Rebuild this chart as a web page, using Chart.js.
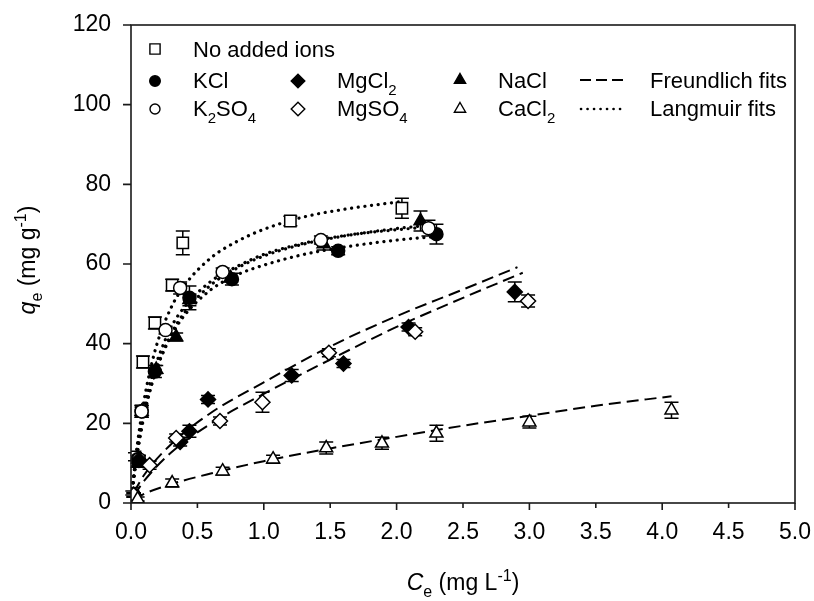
<!DOCTYPE html>
<html><head><meta charset="utf-8">
<script src="https://cdn.jsdelivr.net/npm/chart.js@4.4.0/dist/chart.umd.min.js"></script>
<style>html,body{margin:0;padding:0;background:#fff}canvas{display:block}</style>
</head><body><canvas id="c" width="814" height="601"></canvas>
<script>
// ---- data ----
const xTickValues = [0,0.5,1,1.5,2,2.5,3,3.5,4,4.5,5];
const yTickValues = [0,20,40,60,80,100,120];

const noIonsX = [0.01,0.03,0.08,0.09,0.18,0.31,0.39,1.20,2.04];
const noIonsY = [2.5,11.6,23,35.4,45.2,54.7,65.3,70.8,74];
const noIonsE = [0.5,1,1.5,1.5,1.5,1.5,3,1.2,2.5];

const kclX = [0.02,0.05,0.08,0.18,0.44,0.76,1.56,2.30];
const kclY = [2,11,23,33,51.5,56.2,63.3,67.5];
const kclE = [0.5,1,1.5,1.5,3,1.5,1,2.5];

const k2so4X = [0.02,0.06,0.08,0.26,0.37,0.69,1.43,2.24];
const k2so4Y = [2,11,23,43.4,54,58,66,69];
const k2so4E = [0.5,1,1.5,1,1.5,1,1,2];

const naclX = [0.02,0.05,0.08,0.19,0.34,0.44,0.75,1.45,2.18];
const naclY = [2,10,23,33.5,41.7,51,56.5,65,70.8];
const naclE = [0.5,1,1,1,1,1.5,1,1.5,2.5];

const mgcl2X = [0.02,0.06,0.37,0.44,0.58,1.21,1.60,2.09,2.89];
const mgcl2Y = [2,10.8,15.3,18,26,32,35,44.2,53];
const mgcl2E = [0.5,1,1,1.5,1,1.5,1,1,2.5];

const mgso4X = [0.02,0.14,0.34,0.67,0.99,1.49,2.14,2.99];
const mgso4Y = [2,9.5,16.3,20.6,25.3,37.7,43,50.7];
const mgso4E = [0.5,1,1,1,2.5,1,1,1.5];

const cacl2X = [0.05,0.31,0.69,1.07,1.47,1.89,2.30,3.0,4.07];
const cacl2Y = [1,5,8,11,13.8,15,17.5,20.3,23.3];
const cacl2E = [0.5,1,1,1,1.5,1.5,2,1.5,2];

// fitted curves, points
const langNoIonsX = [0,0.005,0.02,0.05,0.1,0.15,0.2,0.3,0.4,0.6,0.8,1.0,1.3,1.6,2.04];
const langNoIonsY = [0,1.9,6.9,15.3,26.1,34.1,40.4,48.9,54.5,61.5,65.7,68.7,71.8,73.7,75.7];
const langK2so4X = [0,0.005,0.02,0.05,0.1,0.15,0.2,0.3,0.4,0.6,0.8,1.0,1.3,1.6,2.0,2.24];
const langK2so4Y = [0,1.5,5.7,12.9,22.1,29.1,34.4,42.3,47.7,54.7,59.0,62.0,65.0,67.0,68.9,69.7];
const langNaclX = [0,0.005,0.02,0.05,0.1,0.15,0.2,0.3,0.4,0.6,0.8,1.0,1.3,1.6,2.0,2.18];
const langNaclY = [0,1.7,6.4,14.3,23.9,30.9,36.0,44.0,49.1,55.6,59.4,62.4,65.2,67.1,68.6,69.1];
const langKclX = [0,0.005,0.02,0.05,0.1,0.15,0.2,0.3,0.4,0.6,0.8,1.0,1.3,1.6,2.0,2.30];
const langKclY = [0,1.6,5.9,13.2,22.4,29.1,34.3,41.8,47.0,53.5,57.3,59.7,62.4,64.2,66.0,66.9];
const freuMgcl2X = [0.02,0.1,0.3,0.6,1.0,1.5,2.0,2.5,2.91];
const freuMgcl2Y = [2.6,7.1,14.7,22.6,30.3,39.3,46.9,53.6,59.2];
const freuMgso4X = [0.02,0.1,0.3,0.6,1.0,1.5,2.0,2.5,2.95];
const freuMgso4Y = [1.8,5.6,12.6,19.9,27.4,36.0,44.2,51.5,57.8];
const freuCacl2X = [0.02,0.1,0.3,0.6,1.0,1.5,2.0,2.5,3.0,3.5,4.07];
const freuCacl2Y = [0.8,2.3,4.7,7.4,10.5,13.7,16.6,19.4,21.9,24.4,26.8];

// ---- helpers ----
const FAM = "'Liberation Sans', Arial, sans-serif";
const FS = 22;
const TFS = 23;
const pts = (xs, ys) => xs.map((x, i) => ({x: x, y: ys[i]}));

function markerDS(label, xs, ys, errs, style, r, filled) {
  return {label, data: pts(xs, ys), errors: errs, pointStyle: style, pointRadius: r, pointHoverRadius: r,
    backgroundColor: filled ? '#000' : '#fff', borderColor: '#000', pointBorderWidth: 1.5, borderWidth: 1.5,
    showLine: false, order: 1};
}
function fitDS(label, xs, ys, dotted) {
  return {label, data: pts(xs, ys), showLine: true, pointRadius: 0, pointHoverRadius: 0,
    borderColor: '#000', backgroundColor: '#000', fill: false,
    borderWidth: dotted ? 3.2 : 2, borderDash: dotted ? [0.1, 6.6] : [12, 6],
    borderCapStyle: dotted ? 'round' : 'butt', cubicInterpolationMode: 'monotone', order: 10};
}

function fontOf(p, size) {
  const s = (p.sub || p.sup) ? Math.round(size * 0.68) : size;
  return (p.it ? 'italic ' : '') + s + 'px ' + FAM;
}
function richWidth(ctx, parts, size) {
  let w = 0;
  for (const p of parts) { ctx.font = fontOf(p, size); w += ctx.measureText(p.t).width; }
  return w;
}
function drawRich(ctx, parts, x, y, size, align) {
  let cx = x;
  if (align === 'center') cx = x - richWidth(ctx, parts, size) / 2;
  ctx.textAlign = 'left';
  ctx.textBaseline = 'alphabetic';
  for (const p of parts) {
    ctx.font = fontOf(p, size);
    let dy = 0;
    if (p.sub) dy = size * 0.3;
    if (p.sup) dy = -size * 0.38;
    ctx.fillText(p.t, cx, y + dy);
    cx += ctx.measureText(p.t).width;
  }
}
function drawMarker(ctx, style, x, y, r, filled) {
  ctx.save();
  ctx.beginPath();
  if (style === 'rect') {
    const s = r * Math.SQRT1_2; ctx.rect(x - s, y - s, 2 * s, 2 * s);
  } else if (style === 'circle') {
    ctx.arc(x, y, r, 0, Math.PI * 2);
  } else if (style === 'rectRot') {
    ctx.moveTo(x, y - r); ctx.lineTo(x + r, y); ctx.lineTo(x, y + r); ctx.lineTo(x - r, y); ctx.closePath();
  } else if (style === 'triangle') {
    for (let k = 0; k < 3; k++) {
      const a = k * 2 * Math.PI / 3;
      const px = x + Math.sin(a) * r, py = y - Math.cos(a) * r;
      if (k === 0) ctx.moveTo(px, py); else ctx.lineTo(px, py);
    }
    ctx.closePath();
  }
  ctx.fillStyle = filled ? '#000' : '#fff';
  ctx.fill();
  ctx.lineWidth = 1.4; ctx.strokeStyle = '#000'; ctx.stroke();
  ctx.restore();
}

const whiteBg = {
  id: 'whiteBg',
  beforeDraw(chart) {
    const ctx = chart.ctx; ctx.save(); ctx.fillStyle = '#fff';
    ctx.fillRect(0, 0, chart.width, chart.height); ctx.restore();
  }
};

const errorBars = {
  id: 'errorBars',
  beforeDatasetsDraw(chart) {
    const ctx = chart.ctx, xs = chart.scales.x, ys = chart.scales.y;
    ctx.save(); ctx.strokeStyle = '#000'; ctx.lineWidth = 1.5;
    chart.data.datasets.forEach(ds => {
      if (!ds.errors) return;
      ds.data.forEach((p, i) => {
        const e = ds.errors[i]; if (!e) return;
        const px = xs.getPixelForValue(p.x);
        const y1 = ys.getPixelForValue(p.y + e), y2 = ys.getPixelForValue(p.y - e);
        ctx.beginPath();
        ctx.moveTo(px, y1); ctx.lineTo(px, y2);
        ctx.moveTo(px - 7, y1); ctx.lineTo(px + 7, y1);
        ctx.moveTo(px - 7, y2); ctx.lineTo(px + 7, y2);
        ctx.stroke();
      });
    });
    ctx.restore();
  }
};

const frameAndText = {
  id: 'frameAndText',
  afterDraw(chart) {
    const ctx = chart.ctx, a = chart.chartArea, xs = chart.scales.x, ys = chart.scales.y;
    ctx.save();
    ctx.strokeStyle = '#1a1a1a'; ctx.lineWidth = 1.6;
    ctx.strokeRect(a.left, a.top, a.right - a.left, a.bottom - a.top);
    // tick marks
    ctx.beginPath();
    yTickValues.forEach(v => { const py = ys.getPixelForValue(v); ctx.moveTo(a.left - 8, py); ctx.lineTo(a.left, py); });
    xTickValues.forEach(v => {
      const px = xs.getPixelForValue(v);
      const len = Number.isInteger(v) ? 7 : 5;
      ctx.moveTo(px, a.bottom); ctx.lineTo(px, a.bottom + len);
    });
    ctx.stroke();

    ctx.fillStyle = '#000';
    // axis titles
    drawRich(ctx, [{t:'C', it:true},{t:'e', sub:true},{t:' (mg L'},{t:'-1', sup:true},{t:')'}],
      (a.left + a.right) / 2, 590, TFS, 'center');
    ctx.save();
    ctx.translate(35, (a.top + a.bottom) / 2 - 4);
    ctx.rotate(-Math.PI / 2);
    drawRich(ctx, [{t:'q', it:true},{t:'e', sub:true},{t:' (mg g'},{t:'-1', sup:true},{t:')'}], 0, 0, TFS, 'center');
    ctx.restore();

    // legend
    const r1 = 49, r2 = 80, r3 = 108;
    drawMarker(ctx, 'rect', 155, r1, 7.2, false);
    drawRich(ctx, [{t:'No added ions'}], 193, r1 + 8, FS);
    drawMarker(ctx, 'circle', 155, r2 + 1, 5.3, true);
    drawRich(ctx, [{t:'KCl'}], 193, r2 + 8, FS);
    drawMarker(ctx, 'rectRot', 298, r2 + 1, 6.8, true);
    drawRich(ctx, [{t:'MgCl'},{t:'2', sub:true}], 337, r2 + 8, FS);
    drawMarker(ctx, 'triangle', 460, r2, 6.5, true);
    drawRich(ctx, [{t:'NaCl'}], 498, r2 + 8, FS);
    drawMarker(ctx, 'circle', 155, r3 + 1, 5, false);
    drawRich(ctx, [{t:'K'},{t:'2', sub:true},{t:'SO'},{t:'4', sub:true}], 193, r3 + 8, FS);
    drawMarker(ctx, 'rectRot', 298, r3 + 1, 6.8, false);
    drawRich(ctx, [{t:'MgSO'},{t:'4', sub:true}], 337, r3 + 8, FS);
    drawMarker(ctx, 'triangle', 460, r3 + 1, 6.5, false);
    drawRich(ctx, [{t:'CaCl'},{t:'2', sub:true}], 498, r3 + 8, FS);
    // line samples
    ctx.strokeStyle = '#000';
    ctx.lineWidth = 2; ctx.setLineDash([11, 5]); ctx.lineCap = 'butt';
    ctx.beginPath(); ctx.moveTo(580, r2); ctx.lineTo(623, r2); ctx.stroke();
    ctx.lineWidth = 2.6; ctx.setLineDash([0.1, 6.4]); ctx.lineCap = 'round';
    ctx.beginPath(); ctx.moveTo(581, r3 + 1); ctx.lineTo(623, r3 + 1); ctx.stroke();
    ctx.setLineDash([]);
    drawRich(ctx, [{t:'Freundlich fits'}], 650, r2 + 8, FS);
    drawRich(ctx, [{t:'Langmuir fits'}], 650, r3 + 8, FS);
    ctx.restore();
  }
};

new Chart(document.getElementById('c'), {
  type: 'scatter',
  data: {
    datasets: [
      fitDS('Langmuir no added ions', langNoIonsX, langNoIonsY, true),
      fitDS('Langmuir K2SO4', langK2so4X, langK2so4Y, true),
      fitDS('Langmuir NaCl', langNaclX, langNaclY, true),
      fitDS('Langmuir KCl', langKclX, langKclY, true),
      fitDS('Freundlich MgCl2', freuMgcl2X, freuMgcl2Y, false),
      fitDS('Freundlich MgSO4', freuMgso4X, freuMgso4Y, false),
      fitDS('Freundlich CaCl2', freuCacl2X, freuCacl2Y, false),
      markerDS('CaCl2', cacl2X, cacl2Y, cacl2E, 'triangle', 7.5, false),
      markerDS('MgSO4', mgso4X, mgso4Y, mgso4E, 'rectRot', 7.5, false),
      markerDS('MgCl2', mgcl2X, mgcl2Y, mgcl2E, 'rectRot', 7.5, true),
      markerDS('K2SO4', k2so4X, k2so4Y, k2so4E, 'circle', 6.5, false),
      markerDS('KCl', kclX, kclY, kclE, 'circle', 6.5, true),
      markerDS('NaCl', naclX, naclY, naclE, 'triangle', 7.5, true),
      markerDS('No added ions', noIonsX, noIonsY, noIonsE, 'rect', 8, false)
    ]
  },
  options: {
    responsive: false,
    animation: false,
    events: [],
    layout: {padding: {left: 0, right: 19, top: 25, bottom: 0}},
    plugins: {legend: {display: false}, tooltip: {enabled: false}, title: {display: false}},
    scales: {
      x: {
        type: 'linear', min: 0, max: 5,
        afterFit(s) { s.height = 98; s.paddingLeft = 0; s.paddingRight = 0; },
        afterBuildTicks(s) { s.ticks = xTickValues.map(v => ({value: v})); },
        ticks: {color: '#000', padding: 16, maxRotation: 0, autoSkip: false,
          font: {family: FAM, size: TFS}, callback: v => Number(v).toFixed(1)},
        grid: {display: false, drawTicks: false},
        border: {display: false}
      },
      y: {
        type: 'linear', min: 0, max: 120,
        afterFit(s) { s.width = 131; s.paddingTop = 0; s.paddingBottom = 0; },
        afterBuildTicks(s) { s.ticks = yTickValues.map(v => ({value: v})); },
        ticks: {color: '#000', padding: 20, autoSkip: false,
          font: {family: FAM, size: TFS}, callback: v => String(v)},
        grid: {display: false, drawTicks: false},
        border: {display: false}
      }
    }
  },
  plugins: [whiteBg, errorBars, frameAndText]
});
</script>
</body></html>
